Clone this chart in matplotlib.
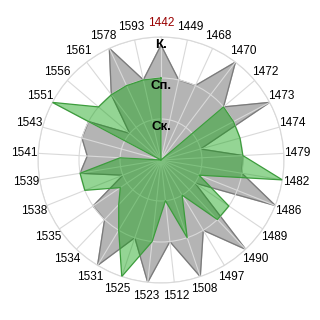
import numpy as np
import matplotlib
matplotlib.use("Agg")
import matplotlib.pyplot as plt

# categories clockwise from the top
years = ["1442", "1449", "1468", "1470", "1472", "1473", "1474", "1479",
         "1482", "1486", "1489", "1490", "1497", "1508", "1512", "1523",
         "1525", "1531", "1534", "1535", "1538", "1539", "1541", "1543",
         "1551", "1556", "1561", "1578", "1593"]

# grey series (behind)
gray_vals = [2.8, 2, 2, 3, 2, 3, 1, 2, 2, 3, 1, 3, 2, 3, 2, 3,
             2, 3, 2, 2, 1, 2, 1.8, 2, 2, 1, 2, 3, 2]

# green series (front, translucent)
green_vals = [2, 0, 0, 0, 2, 2, 2, 2, 3, 1, 2, 2, 1, 2, 1, 2,
              3, 2, 1.5, 1.2, 2, 2, 1, 0, 3, 2, 2, 2, 2]

level_labels = ["Ск.", "Сп.", "К."]
level_values = [1, 2, 3]

plt.rcParams["font.family"] = ["Liberation Sans", "DejaVu Sans"]

n = len(years)
angles = np.linspace(0, 2 * np.pi, n, endpoint=False)
ang_closed = np.append(angles, angles[0])

fig = plt.figure(figsize=(3.2, 3.2), dpi=100)
r_frac = 123 / 320
cx, cy = 161 / 320, 1 - 160 / 320
ax = fig.add_axes([cx - r_frac, cy - r_frac, 2 * r_frac, 2 * r_frac], polar=True)
ax.set_theta_zero_location("N")
ax.set_theta_direction(-1)

g = np.append(gray_vals, gray_vals[0])
ax.fill(ang_closed, g, color="#b4b4b4", zorder=1)
ax.plot(ang_closed, g, color="#7a7a7a", lw=0.9, zorder=1.5)

gr = np.append(green_vals, green_vals[0])
ax.fill(ang_closed, gr, color="#12a312", alpha=0.45, zorder=3, lw=0)
ax.plot(ang_closed, gr, color="#3c9c3c", lw=0.9, zorder=3.5)

ax.set_ylim(0, 3)
ax.set_yticks(level_values)
ax.set_yticklabels([])
ax.set_xticks(angles)
ax.set_xticklabels([])
ax.grid(True, color="#d9d9d9", lw=0.8, zorder=2)
ax.set_axisbelow(False)
for gl in ax.get_xgridlines() + ax.get_ygridlines():
    gl.set_zorder(2)
ax.spines["polar"].set_color("#d9d9d9")
ax.spines["polar"].set_linewidth(0.8)

for a, lab in zip(angles, years):
    col = "#990000" if lab == "1442" else "black"
    ax.text(a, 3.33, lab, ha="center", va="center", fontsize=8.5,
            color=col, clip_on=False)

for v, lab in zip(level_values, level_labels):
    ax.text(0, v - 0.2, lab, ha="center", va="center", fontsize=9.5,
            fontweight="bold", color="black", zorder=5)

fig.savefig("out.png", dpi=100)
